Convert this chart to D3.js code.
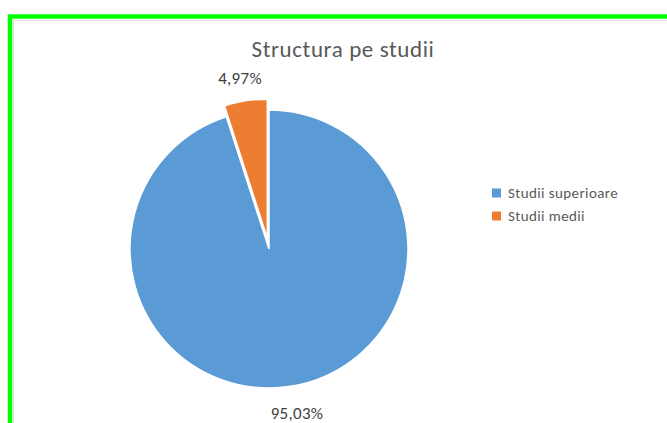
<!DOCTYPE html>
<html>
<head>
<meta charset="utf-8">
<script src="https://cdn.jsdelivr.net/npm/d3@7"></script>
<style>
  html, body { margin: 0; padding: 0; background: #fff; }
  svg { display: block; font-family: Carlito, Lato, "Open Sans", sans-serif; }
</style>
</head>
<body>
<svg id="chart" width="667" height="423"></svg>
<script>
// values
const categories = ["Studii superioare", "Studii medii"];
const shares = [95.03, 4.97];
const labels = ["95,03%", "4,97%"];
const colors = ["#5b9bd5", "#ed7d31"];

const svg = d3.select("#chart");
const W = 667, H = 423;

// chart area border + green frame (top + left)
svg.append("rect").attr("x", 13.5).attr("y", 20.5).attr("width", W).attr("height", H)
  .attr("fill", "none").attr("stroke", "#d9d9d9").attr("stroke-width", 1);
svg.append("path").attr("d", `M10,${H}V16.5H${W}`)
  .attr("fill", "none").attr("stroke", "#00ff00").attr("stroke-width", 4.5);

svg.append("text").attr("x", 343).attr("y", 57).attr("text-anchor", "middle")
  .attr("font-size", 23).attr("letter-spacing", 0.6)
  .attr("fill", "#595959").text("Structura pe studii");

const cx = 269, cy = 249, r = 139, explode = 11;

const data = categories.map((c, i) => ({ name: c, value: shares[i], color: colors[i], label: labels[i] }));
// first point starts at 12 o'clock, clockwise; the small slice closes the circle
const arcs = d3.pie().sort(null).value(d => d.value)(data);
const arc = d3.arc().innerRadius(0).outerRadius(r);

const g = svg.append("g").attr("transform", `translate(${cx},${cy})`);
g.selectAll("path.slice").data(arcs).join("path")
  .attr("class", "slice")
  .attr("d", arc)
  .attr("fill", d => d.data.color)
  .attr("stroke", "#fff").attr("stroke-width", 1.5)
  .attr("transform", (d, i) => {
    if (i !== 1) return null;
    const mid = (d.startAngle + d.endAngle) / 2;
    return `translate(${explode * Math.sin(mid)},${-explode * Math.cos(mid)})`;
  });

// data labels, outside end
const labelPos = [
  [cx + 28, cy + r + 31],
  [cx - 29, cy - r - 26]
];
svg.selectAll("text.lbl").data(arcs).join("text")
  .attr("class", "lbl")
  .attr("x", (d, i) => labelPos[i][0])
  .attr("y", (d, i) => labelPos[i][1])
  .attr("text-anchor", "middle")
  .attr("font-size", 17).attr("letter-spacing", 0.3).attr("fill", "#404040")
  .text(d => d.data.label);

// legend
const legend = svg.append("g").attr("transform", "translate(492,188.5)");
const item = legend.selectAll("g").data(data).join("g")
  .attr("transform", (d, i) => `translate(0,${i * 23})`);
item.append("rect").attr("width", 9).attr("height", 9).attr("fill", d => d.color);
item.append("text").attr("x", 16).attr("y", 9).attr("font-size", 15).attr("letter-spacing", 0.4)
  .attr("fill", "#595959").text(d => d.name);
</script>
</body>
</html>
